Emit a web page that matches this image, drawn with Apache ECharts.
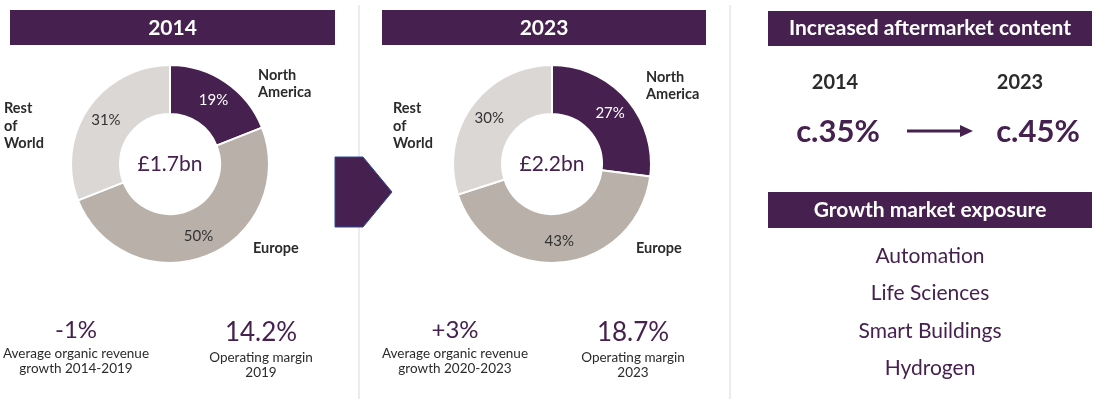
<!DOCTYPE html>
<html>
<head>
<meta charset="utf-8">
<script src="https://cdn.jsdelivr.net/npm/echarts@6/dist/echarts.min.js"></script>
<style>
  html, body { margin: 0; padding: 0; background: #fff; }
  #main { width: 1101px; height: 399px; }
</style>
</head>
<body>
<div id="main"></div>
<script>
// data
var years = ['2014', '2023'];
var regions = ['North America', 'Europe', 'Rest of World'];
var share2014 = [19, 50, 31];
var share2023 = [27, 43, 30];
var revenue = ['£1.7bn', '£2.2bn'];
var growthValues = ['-1%', '+3%'];
var growthLabels = ['Average organic revenue\ngrowth 2014-2019', 'Average organic revenue\ngrowth 2020-2023'];
var marginValues = ['14.2%', '18.7%'];
var marginLabels = ['Operating margin\n2019', 'Operating margin\n2023'];
var aftermarketYears = ['2014', '2023'];
var aftermarketShare = ['c.35%', 'c.45%'];
var growthMarkets = ['Automation', 'Life Sciences', 'Smart Buildings', 'Hydrogen'];

var PURPLE = '#46204f';
var DARK = '#2b2b2b';
var FONT = 'Lato';
var sliceColors = ['#46204f', '#b9b1a9', '#dbd7d5'];
var labelColors = ['#ffffff', '#333333', '#333333'];

var chart = echarts.init(document.getElementById('main'));

// panel layout
var panels = [
  { cx: 170, cy: 164, bx: 10, bw: 325, na: [258, 84], eu: [253, 248], row: [4, 126], gx: 76, mx: 261 },
  { cx: 552, cy: 164, bx: 382, bw: 324, na: [646, 86], eu: [636, 248], row: [393, 126], gx: 455, mx: 633 }
];
var shares = [share2014, share2023];

function pieSeries(i) {
  var p = panels[i];
  return {
    type: 'pie',
    center: [p.cx, p.cy],
    radius: [50, 99],
    startAngle: 90,
    clockwise: true,
    silent: true,
    itemStyle: { borderColor: '#fff', borderWidth: 2 },
    label: {
      position: 'inside',
      fontFamily: FONT,
      fontSize: 15,
      formatter: function (d) { return d.value + '%'; }
    },
    labelLine: { show: false },
    data: regions.map(function (r, k) {
      return {
        name: r,
        value: shares[i][k],
        itemStyle: { color: sliceColors[k] },
        label: { color: labelColors[k] }
      };
    })
  };
}

var g = [];
function txt(x, y, text, size, color, weight, align, lh) {
  g.push({
    type: 'text', x: x, y: y, silent: true,
    style: {
      text: text, fill: color, font: (weight || 'normal') + ' ' + size + 'px ' + FONT,
      align: align || 'center', verticalAlign: 'middle', lineHeight: lh
    }
  });
}

// divider lines
[359, 730].forEach(function (x) {
  g.push({ type: 'line', silent: true, shape: { x1: x, y1: 5, x2: x, y2: 399 }, style: { stroke: '#ececec', lineWidth: 2 } });
});

panels.forEach(function (p, i) {
  g.push({ type: 'rect', silent: true, shape: { x: p.bx, y: 10, width: p.bw, height: 35 }, style: { fill: PURPLE } });
  txt(p.bx + p.bw / 2, 28, years[i], 21, '#fff', 'bold');
  txt(p.cx, p.cy, revenue[i], 21, PURPLE);
  txt(p.na[0], p.na[1], 'North\nAmerica', 14.5, DARK, 'bold', 'left', 17);
  txt(p.eu[0], p.eu[1], 'Europe', 14.5, DARK, 'bold', 'left', 17);
  txt(p.row[0], p.row[1], 'Rest\nof\nWorld', 14.5, DARK, 'bold', 'left', 17.5);
  txt(p.gx, 330, growthValues[i], 24, PURPLE);
  txt(p.gx, 361, growthLabels[i], 13.5, DARK, 'normal', 'center', 15);
  txt(p.mx, 333, marginValues[i], 26, PURPLE);
  txt(p.mx, 365, marginLabels[i], 13.5, DARK, 'normal', 'center', 15);
});

// arrow between panels
g.push({
  type: 'polygon', silent: true,
  shape: { points: [[335, 157], [363, 157], [392, 192], [363, 227], [335, 227]] },
  style: { fill: PURPLE, stroke: '#2d4a9a', lineWidth: 1 }
});

// right column
g.push({ type: 'rect', silent: true, shape: { x: 768, y: 11, width: 324, height: 35 }, style: { fill: PURPLE } });
txt(930, 28, 'Increased aftermarket content', 21, '#fff', 'bold');
txt(835, 83, aftermarketYears[0], 20, DARK, 'bold');
txt(1020, 83, aftermarketYears[1], 20, DARK, 'bold');
txt(838, 132, aftermarketShare[0], 31, PURPLE, 'bold');
txt(1038, 132, aftermarketShare[1], 31, PURPLE, 'bold');
g.push({ type: 'line', silent: true, shape: { x1: 907, y1: 131, x2: 962, y2: 131 }, style: { stroke: PURPLE, lineWidth: 3 } });
g.push({ type: 'polygon', silent: true, shape: { points: [[960, 125], [973, 131], [960, 137]] }, style: { fill: PURPLE } });

g.push({ type: 'rect', silent: true, shape: { x: 768, y: 192, width: 324, height: 36 }, style: { fill: PURPLE } });
txt(930, 210, 'Growth market exposure', 21, '#fff', 'bold');
growthMarkets.forEach(function (m, k) {
  txt(930, 256 + k * 37.5, m, 21, PURPLE);
});

chart.setOption({
  animation: false,
  series: [pieSeries(0), pieSeries(1)],
  graphic: g
});
</script>
</body>
</html>
